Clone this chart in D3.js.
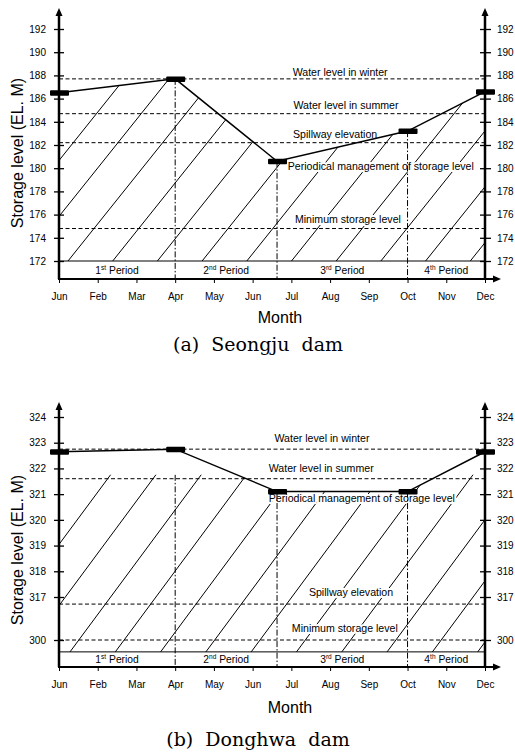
<!DOCTYPE html>
<html>
<head>
<meta charset="utf-8">
<script src="https://cdn.jsdelivr.net/npm/d3@7"></script>
<style>
  html, body { margin: 0; padding: 0; background: #fff; }
  svg { display: block; }
  text { font-family: Arial, "Liberation Sans", sans-serif; fill: #000; }
</style>
</head>
<body>
<div id="chart"></div>
<script>
// month labels as printed on the figure (first one reads "Jun")
const months = ['Jun', 'Feb', 'Mar', 'Apr', 'May', 'Jun', 'Jul', 'Aug', 'Sep', 'Oct', 'Nov', 'Dec'];
const periodBreaks = [0, 3, 5.63, 9, 11];
const periodNums = ['1', '2', '3', '4'];
const periodSups = ['st', 'nd', 'rd', 'th'];
const refNames = ['Water level in winter', 'Water level in summer', 'Spillway elevation', 'Minimum storage level'];
const noteText = 'Periodical management of storage level';

// (a) Seongju dam
const seongjuTicks = [172, 174, 176, 178, 180, 182, 184, 186, 188, 190, 192];
const seongjuMonths = [0, 3, 5.63, 9, 11];
const seongjuLevels = [186.5, 187.7, 180.6, 183.2, 186.6];
const seongjuRefLevels = [187.7, 184.7, 182.2, 174.8];

// (b) Donghwa dam (broken axis below 317)
const donghwaTicks = [300, 317, 318, 319, 320, 321, 322, 323, 324];
const donghwaMonths = [0, 3, 5.63, 9, 11];
const donghwaLevels = [322.65, 322.75, 321.1, 321.1, 322.65];
const donghwaRefLevels = [322.75, 321.6, 314.2, 300];

const W = 515, H = 753;
const svg = d3.select('#chart').append('svg')
  .attr('width', W).attr('height', H)
  .attr('viewBox', '0 0 ' + W + ' ' + H);

const x = d3.scaleLinear().domain([0, 11]).range([59, 485]);

const panels = [
  {
    id: 'a',
    y: d3.scaleLinear().domain([172, 192]).range([261, 29]),
    ticks: seongjuTicks, pm: seongjuMonths, pv: seongjuLevels, refs: seongjuRefLevels,
    floor: 172, axisY: 279, top: 8,
    ceiling: null,
    labelX: [7.26, 7.41, 7.13, 7.46], labelDy: [-3, -5, -5, -6],
    note: [8.31, 179.85],
    hatch: { x0: 68, sp: 44.7, slope: 1.25 },
    title: [17, 153], month: [280, 323], caption: '(a) Seongju dam', capY: 351
  },
  {
    id: 'b',
    y: d3.scaleLinear().domain([300, 317, 324]).range([640, 597, 417]),
    ticks: donghwaTicks, pm: donghwaMonths, pv: donghwaLevels, refs: donghwaRefLevels,
    floor: 295.3, axisY: 667, top: 402,
    ceiling: 321.75,
    labelX: [6.79, 6.77, 7.54, 7.38], labelDy: [-7, -7, -8, -8],
    note: [7.82, 320.69],
    hatch: { x0: 70, sp: 45.3, slope: 1.35 },
    title: [17, 550], month: [290, 713], caption: '(b) Donghwa dam', capY: 746
  }
];

panels.forEach(p => {
  const y = p.y;
  const g = svg.append('g').attr('class', 'panel-' + p.id);
  const yFloor = y(p.floor);
  const pts = p.pm.map((m, i) => [x(m), y(p.pv[i])]);

  // hatch, clipped under the storage curve
  const clipId = 'clip-' + p.id;
  g.append('clipPath').attr('id', clipId)
    .append('path')
    .attr('d', d3.line()([[x(0), yFloor]].concat(pts, [[x(11), yFloor]])) + 'Z');
  let hg = g.append('g').attr('clip-path', 'url(#' + clipId + ')');
  if (p.ceiling != null) {
    const cid = 'ceil-' + p.id;
    g.append('clipPath').attr('id', cid)
      .append('rect').attr('x', x(0)).attr('y', y(p.ceiling))
      .attr('width', x(11) - x(0)).attr('height', yFloor - y(p.ceiling));
    hg = hg.append('g').attr('clip-path', 'url(#' + cid + ')');
  }
  const hs = d3.range(-2, 11).map(k => p.hatch.x0 + k * p.hatch.sp);
  hg.selectAll('line').data(hs).enter().append('line')
    .attr('x1', d => d).attr('y1', yFloor)
    .attr('x2', d => d + 400 / p.hatch.slope).attr('y2', yFloor - 400)
    .attr('stroke', '#000').attr('stroke-width', 1);

  // labels (white halo breaks the hatch)
  const lab = g.append('g').attr('font-size', 10.6);
  refNames.forEach((t, i) => {
    lab.append('text')
      .attr('x', x(p.labelX[i])).attr('y', y(p.refs[i]) + p.labelDy[i])
      .attr('text-anchor', 'middle')
      .attr('stroke', '#fff').attr('stroke-width', 4).attr('paint-order', 'stroke')
      .text(t);
  });
  lab.append('text')
    .attr('x', x(p.note[0])).attr('y', y(p.note[1]))
    .attr('text-anchor', 'middle')
    .attr('stroke', '#fff').attr('stroke-width', 4).attr('paint-order', 'stroke')
    .text(noteText);

  // dashed reference levels
  g.selectAll('line.ref').data(p.refs).enter().append('line')
    .attr('class', 'ref')
    .attr('x1', x(0)).attr('x2', x(11))
    .attr('y1', d => y(d)).attr('y2', d => y(d))
    .attr('stroke', '#000').attr('stroke-width', 1).attr('stroke-dasharray', '4,2.5');

  // period row
  g.append('line').attr('x1', x(0)).attr('x2', x(11))
    .attr('y1', yFloor).attr('y2', yFloor)
    .attr('stroke', '#000').attr('stroke-width', 1);

  const innerBreaks = periodBreaks.slice(1, 4);
  g.selectAll('line.vdash').data(innerBreaks).enter().append('line')
    .attr('class', 'vdash')
    .attr('x1', d => x(d)).attr('x2', d => x(d))
    .attr('y1', d => {
      const v = p.pv[p.pm.indexOf(d)];
      return p.ceiling != null && v > p.ceiling ? y(p.ceiling) : y(v);
    })
    .attr('y2', p.axisY)
    .attr('stroke', '#000').attr('stroke-width', 1).attr('stroke-dasharray', '6,2,1.5,2');

  const per = g.append('g').attr('font-size', 10.3);
  periodNums.forEach((n, i) => {
    const t = per.append('text')
      .attr('x', (x(periodBreaks[i]) + x(periodBreaks[i + 1])) / 2)
      .attr('y', (yFloor + p.axisY) / 2 + 4)
      .attr('text-anchor', 'middle');
    t.append('tspan').text(n);
    t.append('tspan').attr('font-size', 6.5).attr('dy', -4).text(periodSups[i]);
    t.append('tspan').attr('dy', 4).text(' Period');
  });

  // storage curve and markers
  g.append('path').attr('d', d3.line()(pts))
    .attr('fill', 'none').attr('stroke', '#000').attr('stroke-width', 1.5);
  g.selectAll('rect.mk').data(pts).enter().append('rect')
    .attr('class', 'mk')
    .attr('x', d => d[0] - 9).attr('y', d => d[1] - 2.5)
    .attr('width', 19).attr('height', 5.5).attr('rx', 1).attr('fill', '#000');

  // axes
  const left = g.append('g').attr('transform', 'translate(' + x(0) + ',0)')
    .call(d3.axisLeft(y).tickValues(p.ticks).tickSize(5).tickPadding(8).tickFormat(d3.format('d')));
  const right = g.append('g').attr('transform', 'translate(' + x(11) + ',0)')
    .call(d3.axisRight(y).tickValues(p.ticks).tickSize(6).tickPadding(6).tickFormat(d3.format('d')));
  [left, right].forEach(a => {
    a.select('.domain').remove();
    a.selectAll('.tick line').attr('stroke-width', 1.3);
    a.selectAll('.tick text').attr('font-size', 10).attr('font-family', 'Arial, "Liberation Sans", sans-serif');
  });
  left.selectAll('.tick line').attr('x1', 5);
  right.selectAll('.tick line').attr('x1', -5);

  const bottom = g.append('g').attr('transform', 'translate(0,' + p.axisY + ')')
    .call(d3.axisBottom(x).tickValues(d3.range(12)).tickSize(4).tickPadding(10).tickFormat(i => months[i]));
  bottom.select('.domain').remove();
  bottom.selectAll('.tick text').attr('font-size', 10).attr('font-family', 'Arial, "Liberation Sans", sans-serif');

  [x(0), x(11)].forEach(ax => {
    g.append('line').attr('x1', ax).attr('x2', ax).attr('y1', p.axisY).attr('y2', p.top + 6)
      .attr('stroke', '#000').attr('stroke-width', 2.5);
    g.append('path').attr('d', d3.line()([[ax - 3.5, p.top + 8], [ax, p.top], [ax + 3.5, p.top + 8]]) + 'Z')
      .attr('fill', '#000');
  });
  g.append('line').attr('x1', x(0) - 1).attr('x2', 494).attr('y1', p.axisY).attr('y2', p.axisY)
    .attr('stroke', '#000').attr('stroke-width', 2.2);
  g.append('path').attr('d', d3.line()([[493, p.axisY - 3.5], [501, p.axisY], [493, p.axisY + 3.5]]) + 'Z')
    .attr('fill', '#000');

  // titles
  g.append('text')
    .attr('transform', 'translate(' + p.title[0] + ',' + p.title[1] + ') rotate(-90)')
    .attr('text-anchor', 'middle').attr('dy', '0.35em')
    .attr('font-size', 16).text('Storage level (EL. M)');
  g.append('text')
    .attr('x', p.month[0]).attr('y', p.month[1])
    .attr('text-anchor', 'middle').attr('font-size', 16).text('Month');
  g.append('text')
    .attr('x', 258).attr('y', p.capY)
    .attr('text-anchor', 'middle')
    .style('font-family', '"DejaVu Serif", "Liberation Serif", serif')
    .attr('font-size', 19).attr('xml:space', 'preserve')
    .text(p.caption.replace(') ', ')  ').replace(' dam', '  dam'));
});
</script>
</body>
</html>
